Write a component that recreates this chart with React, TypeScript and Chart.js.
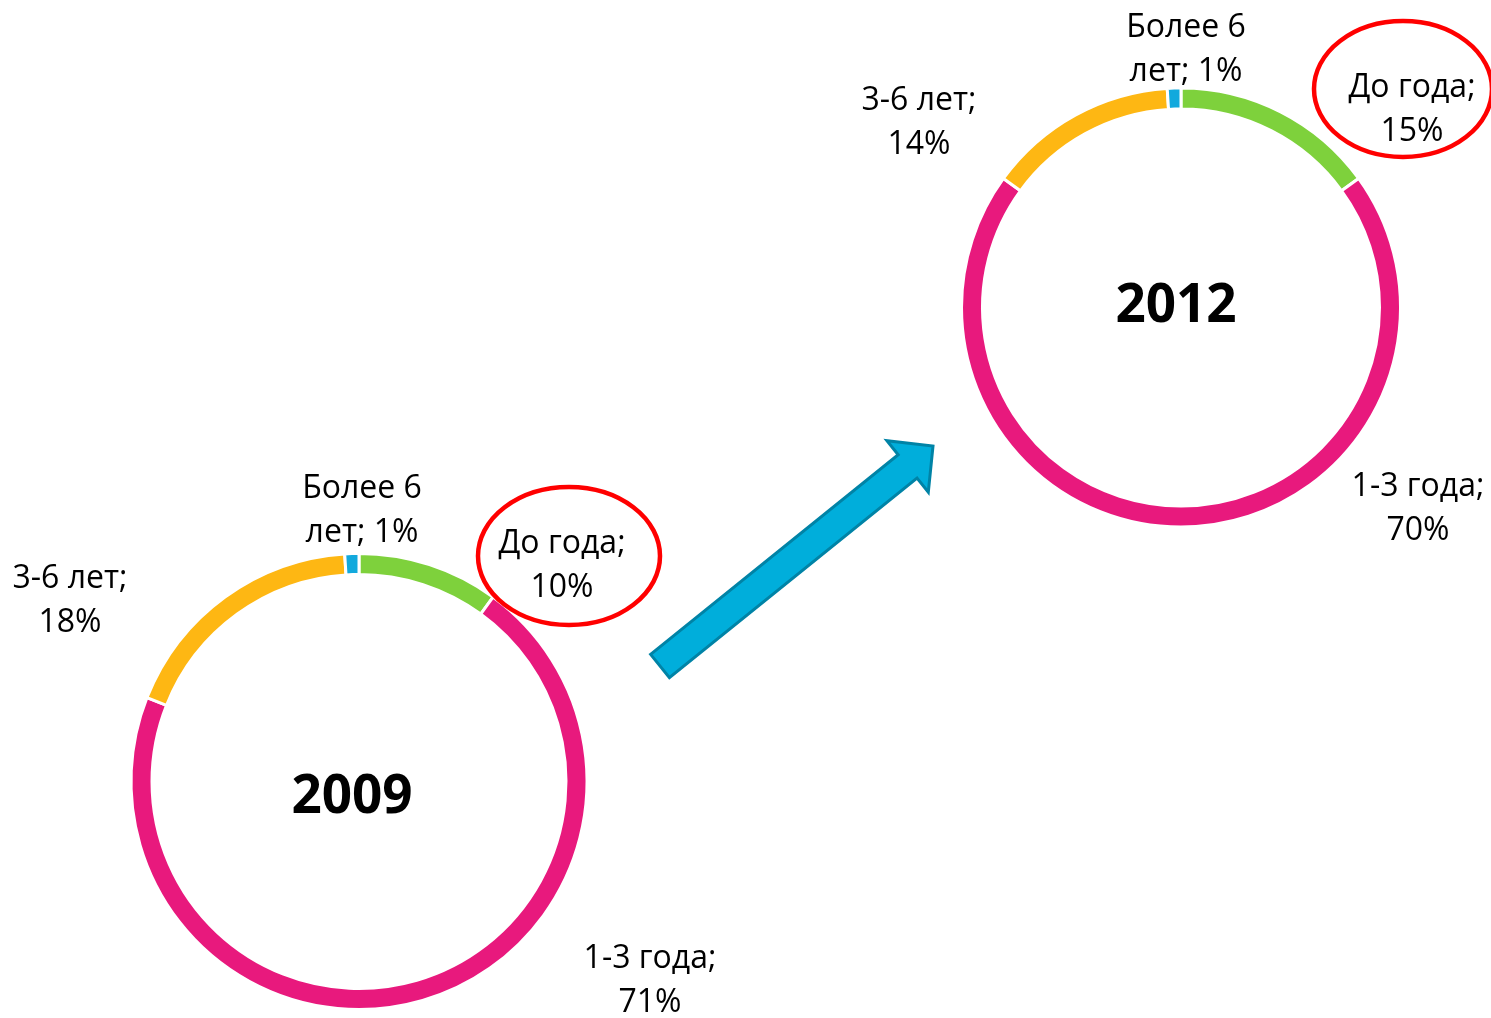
import React, { useEffect, useRef } from "react";
import { Chart, registerables } from "chart.js";

Chart.register(...registerables);

const categories = ["До года", "1-3 года", "3-6 лет", "Более 6 лет"];
const values2009 = [10, 71, 18, 1];
const values2012 = [15, 70, 14, 1];
const years = ["2009", "2012"];
const colors = ["#7ed13c", "#e8197d", "#feb713", "#12a9dd"];

const W = 1491;
const H = 1018;
const FONT = "'Open Sans', 'Noto Sans', sans-serif";

type Layout = {
  cx: number;
  cy: number;
  outer: number;
  inner: number;
  yearX: number;
  yearY: number;
  labels: { x: number; y: number }[];
  ellipse: { x: number; y: number; rx: number; ry: number };
  arrow: boolean;
};

const layouts: Layout[] = [
  {
    cx: 359,
    cy: 781.5,
    outer: 228,
    inner: 207,
    yearX: 352,
    yearY: 813,
    labels: [
      { x: 562, y: 553 },
      { x: 650, y: 968 },
      { x: 70, y: 588 },
      { x: 362, y: 498 },
    ],
    ellipse: { x: 569, y: 556, rx: 91, ry: 69 },
    arrow: true,
  },
  {
    cx: 1181,
    cy: 307.5,
    outer: 219.5,
    inner: 198.5,
    yearX: 1176,
    yearY: 322,
    labels: [
      { x: 1412, y: 97 },
      { x: 1418, y: 496 },
      { x: 919, y: 110 },
      { x: 1186, y: 37 },
    ],
    ellipse: { x: 1403, y: 89, rx: 89, ry: 68 },
    arrow: false,
  },
];

function wrap(ctx: CanvasRenderingContext2D, text: string, maxW: number) {
  const words = text.split(" ");
  const lines: string[] = [];
  let cur = "";
  for (const w of words) {
    const test = cur ? cur + " " + w : w;
    if (cur && ctx.measureText(test).width > maxW) {
      lines.push(cur);
      cur = w;
    } else cur = test;
  }
  if (cur) lines.push(cur);
  return lines;
}

function makeOverlay(lay: Layout, year: string) {
  return {
    id: "overlay" + year,
    afterDraw(chart: any) {
      const ctx: CanvasRenderingContext2D = chart.ctx;
      const ds = chart.data.datasets[0];
      const labels: string[] = chart.data.labels;
      ctx.save();
      // red ellipse
      ctx.beginPath();
      ctx.ellipse(lay.ellipse.x, lay.ellipse.y, lay.ellipse.rx, lay.ellipse.ry, 0, 0, Math.PI * 2);
      ctx.strokeStyle = "#ff0000";
      ctx.lineWidth = 4.5;
      ctx.stroke();
      // labels
      ctx.fillStyle = "#000";
      ctx.textAlign = "center";
      ctx.textBaseline = "alphabetic";
      ctx.font = `32px ${FONT}`;
      labels.forEach((lab, i) => {
        const txt = `${lab}; ${ds.data[i]}%`;
        const lines = wrap(ctx, txt, 152);
        const p = lay.labels[i];
        lines.forEach((ln, k) => ctx.fillText(ln, p.x, p.y + k * 44));
      });
      // year
      ctx.font = `bold 53px ${FONT}`;
      ctx.fillText(year, lay.yearX, lay.yearY);
      // arrow
      if (lay.arrow) {
        const T = { x: 660, y: 666 };
        const tip = { x: 933, y: 446 };
        const dx = tip.x - T.x;
        const dy = tip.y - T.y;
        const len = Math.hypot(dx, dy);
        const u = { x: dx / len, y: dy / len };
        const n = { x: -u.y, y: u.x };
        const w = 15;
        const hw = 33;
        const bl = 318;
        const B = { x: T.x + u.x * bl, y: T.y + u.y * bl };
        const pts = [
          [T.x - n.x * w, T.y - n.y * w],
          [B.x - n.x * w, B.y - n.y * w],
          [B.x - n.x * hw, B.y - n.y * hw],
          [tip.x, tip.y],
          [B.x + n.x * hw, B.y + n.y * hw],
          [B.x + n.x * w, B.y + n.y * w],
          [T.x + n.x * w, T.y + n.y * w],
        ];
        ctx.beginPath();
        pts.forEach((p, i) => (i ? ctx.lineTo(p[0], p[1]) : ctx.moveTo(p[0], p[1])));
        ctx.closePath();
        ctx.fillStyle = "#00aedb";
        ctx.fill();
        ctx.strokeStyle = "#0083a6";
        ctx.lineWidth = 3;
        ctx.lineJoin = "miter";
        ctx.stroke();
      }
      ctx.restore();
    },
  };
}

function Ring({ index, values }: { index: number; values: number[] }) {
  const ref = useRef<HTMLCanvasElement>(null);
  useEffect(() => {
    const lay = layouts[index];
    const half = 200;
    const chart = new Chart(ref.current as HTMLCanvasElement, {
      type: "doughnut",
      data: {
        labels: categories,
        datasets: [
          {
            data: values,
            backgroundColor: colors,
            borderColor: "#ffffff",
            borderWidth: 3,
            radius: lay.outer,
          } as any,
        ],
      },
      options: {
        responsive: false,
        animation: false,
        events: [],
        cutout: `${(lay.inner / lay.outer) * 100}%`,
        layout: {
          padding: {
            left: lay.cx - half,
            right: W - lay.cx - half,
            top: lay.cy - half,
            bottom: H - lay.cy - half,
          },
        },
        plugins: { legend: { display: false }, tooltip: { enabled: false } },
      } as any,
      plugins: [makeOverlay(lay, years[index])],
    });
    return () => chart.destroy();
  }, [index, values]);
  return (
    <canvas
      ref={ref}
      width={W}
      height={H}
      style={{ position: "absolute", left: 0, top: 0, width: W, height: H }}
    />
  );
}

export default function App() {
  return (
    <div style={{ position: "absolute", left: 0, top: 0, width: W, height: H, background: "#fff", overflow: "hidden" }}>
      <Ring index={0} values={values2009} />
      <Ring index={1} values={values2012} />
    </div>
  );
}
